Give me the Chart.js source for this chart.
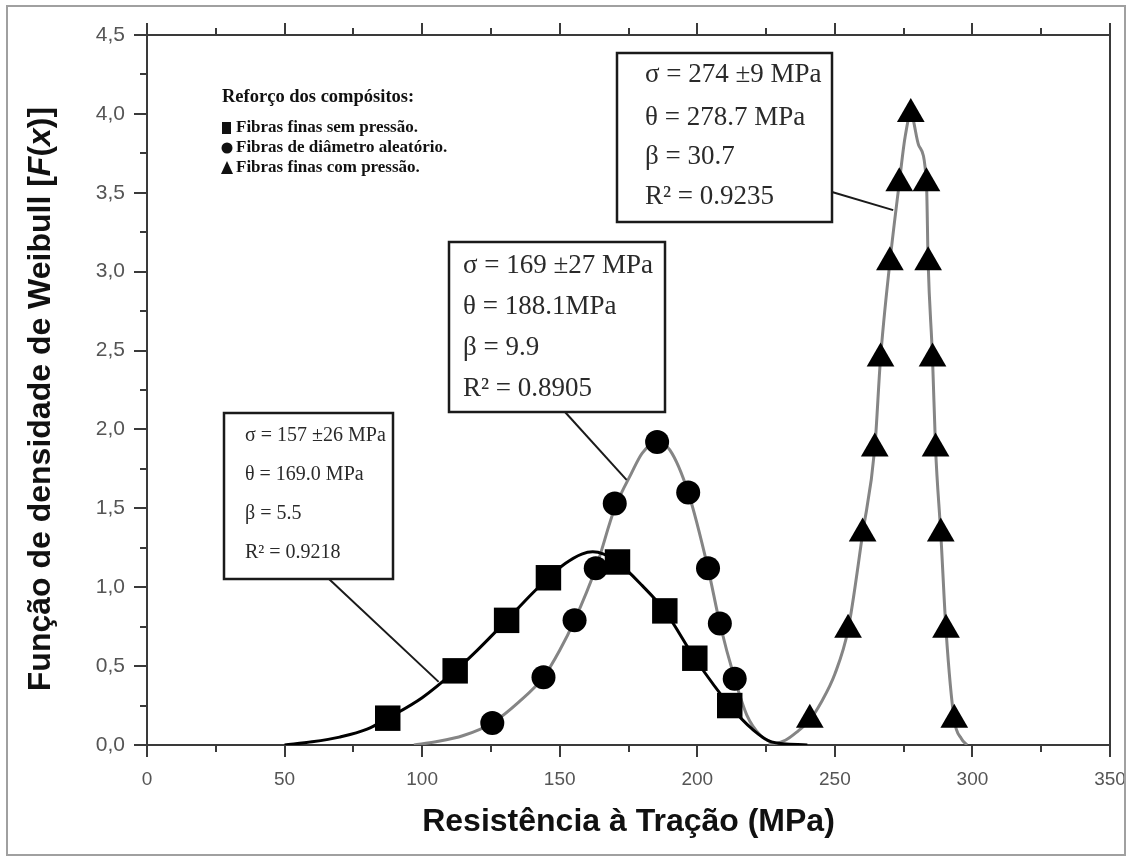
<!DOCTYPE html>
<html>
<head>
<meta charset="utf-8">
<script src="https://cdn.jsdelivr.net/npm/chart.js@4.4.0/dist/chart.umd.min.js"></script>
<style>
  html, body { margin: 0; padding: 0; background: #fff; }
</style>
</head>
<body>
<canvas id="weibullChart" width="1129" height="858"></canvas>
<script>
const squareX = [87.5, 112, 130.7, 145.9, 171, 188.2, 199.1, 211.8];
const squareY = [0.17, 0.47, 0.79, 1.06, 1.16, 0.85, 0.55, 0.25];

const circleX = [125.5, 144.1, 155.4, 163.1, 170, 185.4, 196.7, 203.9, 208.2, 213.6];
const circleY = [0.14, 0.43, 0.79, 1.12, 1.53, 1.92, 1.60, 1.12, 0.77, 0.42];

const triangleX = [240.9, 254.8, 260.1, 264.5, 266.6, 270.0, 273.4, 277.6, 283.3, 283.9, 285.5, 286.6, 288.5, 290.4, 293.4];
const triangleY = [0.16, 0.73, 1.34, 1.88, 2.45, 3.06, 3.56, 4.00, 3.56, 3.06, 2.45, 1.88, 1.34, 0.73, 0.16];

// Curvas de ajuste de Weibull
const squareFitX = [50, 60, 70, 80, 87.5, 100, 112, 120, 130.7, 140, 145.9, 152, 158, 162, 166, 171, 180, 188.2, 199.1, 211.8, 220, 227, 240];
const squareFitY = [0.0, 0.02, 0.05, 0.10, 0.17, 0.30, 0.47, 0.60, 0.79, 0.96, 1.06, 1.15, 1.21, 1.225, 1.21, 1.16, 1.01, 0.85, 0.55, 0.25, 0.10, 0.02, 0.0];

const circleFitX = [97, 105, 115, 125.5, 135, 144.1, 150, 155.4, 163.1, 170, 176, 180, 185.4, 190, 196.7, 203.9, 208.2, 213.6, 218, 223, 229];
const circleFitY = [0.0, 0.02, 0.06, 0.14, 0.27, 0.43, 0.60, 0.79, 1.12, 1.50, 1.72, 1.85, 1.92, 1.87, 1.60, 1.12, 0.77, 0.42, 0.19, 0.06, 0.0];

const triangleFitX = [226, 232, 236, 240.9, 245, 250, 254.8, 260.1, 264.5, 266.6, 270.0, 273.4, 275.5, 277.6, 280.5, 283.3, 283.9, 285.5, 286.6, 288.5, 290.4, 293.4, 296, 298];
const triangleFitY = [0.0, 0.03, 0.08, 0.16, 0.27, 0.45, 0.73, 1.34, 1.88, 2.45, 3.06, 3.56, 3.85, 4.00, 3.80, 3.56, 3.06, 2.45, 1.88, 1.34, 0.73, 0.16, 0.04, 0.0];

// Textos
const legendTitle = 'Reforço dos compósitos:';
const seriesNames = ['Fibras finas sem pressão.', 'Fibras de diâmetro aleatório.', 'Fibras finas com pressão.'];
const fitLabels = [
  ['σ = 157 ±26 MPa', 'θ = 169.0 MPa', 'β = 5.5', 'R² = 0.9218'],
  ['σ = 169 ±27 MPa', 'θ = 188.1MPa', 'β = 9.9', 'R² = 0.8905'],
  ['σ = 274 ±9 MPa', 'θ = 278.7 MPa', 'β = 30.7', 'R² = 0.9235']
];
const fitTips = [[106, 0.40], [174.3, 1.68], [271.2, 3.39]];

const xTitle = 'Resistência à Tração (MPa)';

function toPoints(xs, ys) {
  return xs.map((x, i) => ({ x: x, y: ys[i] }));
}

const SANS = '"Liberation Sans", Arial, sans-serif';
const SERIF = '"Liberation Serif", "Times New Roman", serif';

// moldura, marcas dos eixos, borda externa
const framePlugin = {
  id: 'frame',
  beforeDatasetsDraw(chart) {
    const { ctx, chartArea: a, scales: { x, y } } = chart;
    ctx.save();
    ctx.strokeStyle = '#a0a0a0';
    ctx.lineWidth = 2;
    ctx.strokeRect(7, 6, 1118, 849);

    ctx.strokeStyle = '#3a3a3a';
    ctx.lineWidth = 2;
    ctx.strokeRect(a.left, a.top, a.right - a.left, a.bottom - a.top);
    ctx.beginPath();
    for (let v = 0; v <= 350; v += 25) {
      const px = Math.round(x.getPixelForValue(v));
      const len = v % 50 === 0 ? 12 : 7;
      ctx.moveTo(px, a.bottom); ctx.lineTo(px, a.bottom + len);
      ctx.moveTo(px, a.top); ctx.lineTo(px, a.top - len);
    }
    for (let v = 0; v <= 4.5; v += 0.25) {
      const py = Math.round(y.getPixelForValue(v));
      const len = (v * 2) % 1 === 0 ? 13 : 7;
      ctx.moveTo(a.left, py); ctx.lineTo(a.left - len, py);
    }
    ctx.stroke();
    ctx.restore();
  },
  afterDraw(chart) {
    const { ctx, scales: { x, y } } = chart;
    ctx.save();

    // título do eixo y (com F(x) em itálico)
    const parts = [
      ['Função de densidade de Weibull [', 'bold'],
      ['F', 'italic bold'],
      ['(', 'bold'],
      ['x', 'italic bold'],
      [')]', 'bold']
    ];
    let total = 0;
    parts.forEach(p => { ctx.font = p[1] + ' 32px ' + SANS; total += ctx.measureText(p[0]).width; });
    ctx.translate(41, 399);
    ctx.rotate(-Math.PI / 2);
    ctx.fillStyle = '#111';
    ctx.textBaseline = 'middle';
    ctx.textAlign = 'left';
    let cx = -total / 2;
    parts.forEach(p => {
      ctx.font = p[1] + ' 32px ' + SANS;
      ctx.fillText(p[0], cx, 0);
      cx += ctx.measureText(p[0]).width;
    });
    ctx.restore();

    // legenda
    ctx.save();
    ctx.fillStyle = '#111';
    ctx.textBaseline = 'middle';
    ctx.font = 'bold 18.5px ' + SERIF;
    ctx.fillText(legendTitle, 222, 97);
    ctx.font = 'bold 17px ' + SERIF;
    const rows = [128, 148, 168];
    seriesNames.forEach((name, i) => {
      const my = rows[i];
      ctx.beginPath();
      if (i === 0) ctx.rect(222, my - 6, 9, 12);
      else if (i === 1) ctx.arc(227, my, 5.5, 0, Math.PI * 2);
      else { ctx.moveTo(227, my - 7); ctx.lineTo(233, my + 6); ctx.lineTo(221, my + 6); ctx.closePath(); }
      ctx.fill();
      ctx.fillText(name, 236, my);
    });
    ctx.restore();

    // caixas com os parâmetros de Weibull
    const boxes = [
      { l: 224, t: 413, r: 393, b: 579, tx: 245, rows: [436, 475, 514, 553], size: 20, from: [329, 579] },
      { l: 449, t: 242, r: 665, b: 412, tx: 463, rows: [266, 307, 348, 389], size: 27, from: [565, 412] },
      { l: 617, t: 53, r: 832, b: 222, tx: 645, rows: [75, 118, 157, 197], size: 27, from: [832, 192] }
    ];
    ctx.save();
    boxes.forEach((bx, i) => {
      const tip = fitTips[i];
      ctx.strokeStyle = '#1a1a1a';
      ctx.lineWidth = 2;
      ctx.beginPath();
      ctx.moveTo(bx.from[0], bx.from[1]);
      ctx.lineTo(x.getPixelForValue(tip[0]), y.getPixelForValue(tip[1]));
      ctx.stroke();
      ctx.fillStyle = '#fff';
      ctx.fillRect(bx.l, bx.t, bx.r - bx.l, bx.b - bx.t);
      ctx.lineWidth = 2.5;
      ctx.strokeRect(bx.l, bx.t, bx.r - bx.l, bx.b - bx.t);
      ctx.fillStyle = '#2a2a2a';
      ctx.textBaseline = 'middle';
      ctx.font = bx.size + 'px ' + SERIF;
      fitLabels[i].forEach((txt, j) => ctx.fillText(txt, bx.tx, bx.rows[j]));
    });
    ctx.restore();
  }
};

const ctx = document.getElementById('weibullChart');

new Chart(ctx, {
  type: 'scatter',
  data: {
    datasets: [
      {
        label: seriesNames[0],
        data: toPoints(squareX, squareY),
        pointStyle: 'rect',
        pointRadius: 18,
        backgroundColor: '#000',
        borderColor: '#000',
        borderWidth: 0,
        showLine: false
      },
      {
        label: seriesNames[1],
        data: toPoints(circleX, circleY),
        pointStyle: 'circle',
        pointRadius: 12,
        backgroundColor: '#000',
        borderColor: '#000',
        borderWidth: 0,
        showLine: false
      },
      {
        label: seriesNames[2],
        data: toPoints(triangleX, triangleY),
        pointStyle: 'triangle',
        pointRadius: 16,
        backgroundColor: '#000',
        borderColor: '#000',
        borderWidth: 0,
        showLine: false
      },
      {
        label: 'ajuste 1',
        data: toPoints(squareFitX, squareFitY),
        showLine: true,
        borderColor: '#000',
        borderWidth: 3,
        pointRadius: 0,
        cubicInterpolationMode: 'monotone'
      },
      {
        label: 'ajuste 2',
        data: toPoints(circleFitX, circleFitY),
        showLine: true,
        borderColor: '#858585',
        borderWidth: 3,
        pointRadius: 0,
        cubicInterpolationMode: 'monotone'
      },
      {
        label: 'ajuste 3',
        data: toPoints(triangleFitX, triangleFitY),
        showLine: true,
        borderColor: '#858585',
        borderWidth: 3,
        pointRadius: 0,
        cubicInterpolationMode: 'monotone'
      }
    ]
  },
  options: {
    responsive: false,
    animation: false,
    events: [],
    layout: { padding: { left: 0, right: 19, top: 35, bottom: 0 } },
    plugins: {
      legend: { display: false },
      tooltip: { enabled: false }
    },
    scales: {
      x: {
        type: 'linear',
        min: 0,
        max: 350,
        ticks: {
          stepSize: 50,
          color: '#555',
          padding: 23,
          font: { family: SANS, size: 19 }
        },
        grid: { display: false, drawTicks: false },
        border: { display: false },
        title: {
          display: true,
          text: xTitle,
          color: '#111',
          font: { family: SANS, size: 32, weight: 'bold' },
          padding: { top: 0, bottom: 17 }
        },
        afterFit(scale) {
          scale.height = 113;
          scale.paddingLeft = 0;
          scale.paddingRight = 0;
        }
      },
      y: {
        type: 'linear',
        min: 0,
        max: 4.5,
        ticks: {
          stepSize: 0.5,
          color: '#555',
          padding: 22,
          font: { family: SANS, size: 21 },
          callback: value => value.toFixed(1).replace('.', ',')
        },
        grid: { display: false, drawTicks: false },
        border: { display: false },
        afterFit(scale) {
          scale.width = 147;
          scale.paddingTop = 0;
          scale.paddingBottom = 0;
        }
      }
    }
  },
  plugins: [framePlugin]
});
</script>
</body>
</html>
